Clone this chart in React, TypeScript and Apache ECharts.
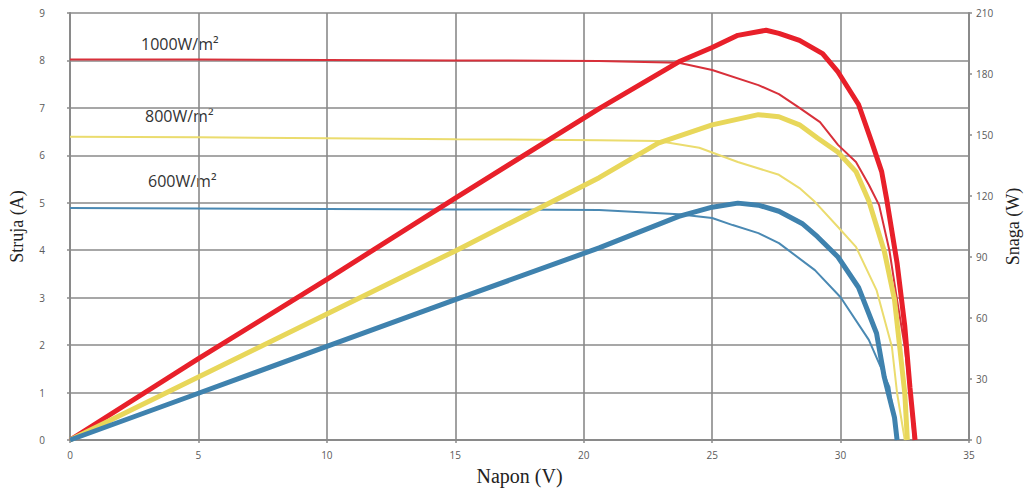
import React, { useEffect, useRef } from "react";
import * as echarts from "echarts";

// ---- Data ----
// I-V curves (Struja, A)
const voltageI1000 = [0, 5, 10, 15, 20.6, 23.7, 25.0, 26.8, 27.6, 28.4, 29.2, 29.9, 30.6, 31.1, 31.5, 31.9, 32.2, 32.5, 32.7, 32.85];
const current1000 = [8.02, 8.02, 8.01, 8.0, 7.99, 7.95, 7.8, 7.48, 7.29, 7.0, 6.7, 6.22, 5.86, 5.38, 4.95, 4.0, 2.95, 1.96, 0.99, 0];

const voltageI800 = [0, 5, 10, 15, 20.6, 22.9, 24.5, 26.0, 27.6, 28.4, 29.0, 29.9, 30.6, 31.4, 32.0, 32.2, 32.5];
const current800 = [6.39, 6.38, 6.36, 6.34, 6.32, 6.3, 6.16, 5.86, 5.59, 5.31, 5.02, 4.49, 4.07, 3.16, 1.96, 0.99, 0];

const voltageI600 = [0, 5, 10, 15, 20.6, 23.7, 25.0, 25.8, 26.8, 27.6, 29.0, 30.0, 31.1, 31.9, 32.2];
const current600 = [4.89, 4.88, 4.87, 4.86, 4.85, 4.76, 4.68, 4.53, 4.36, 4.15, 3.58, 3.01, 2.11, 1.12, 0];

// P-V curves (Snaga, W)
const voltageP1000 = [0, 5, 10, 15, 20.6, 23.7, 25.0, 26.0, 27.1, 27.6, 28.4, 29.3, 29.9, 30.7, 31.2, 31.6, 31.8, 32.2, 32.5, 32.7, 32.9];
const power1000 = [0, 40, 79, 119, 163, 186, 193, 199, 201.5, 200, 196.5, 190, 181, 165, 147, 132, 118, 87, 56, 26, 0];

const voltageP800 = [0, 5, 10, 15, 20.6, 22.9, 25.0, 26.8, 27.6, 28.4, 29.1, 29.9, 30.6, 31.1, 31.7, 32.1, 32.3, 32.5, 32.6];
const power800 = [0, 31, 62, 93, 129, 146, 155, 160, 159, 155, 148.5, 141.5, 132, 117.5, 93, 69, 46, 23, 0];

const voltageP600 = [0, 5, 10, 15, 20.6, 23.7, 25.0, 26.0, 26.8, 27.6, 28.5, 29.1, 29.9, 30.7, 31.4, 31.7, 32.1, 32.2];
const power600 = [0, 23, 46, 69, 94.5, 110, 114.5, 116.5, 115.5, 112.5, 106.5, 100, 90, 75, 52.5, 31, 11, 0];

const irradianceLabels = ["1000W/m²", "800W/m²", "600W/m²"];

const xAxisName = "Napon (V)";
const yLeftName = "Struja (A)";
const yRightName = "Snaga (W)";

const pairs = (xs: number[], ys: number[]) => xs.map((x, i) => [x, ys[i]]);

const RED = "#e8202a";
const RED_THIN = "#d8303a";
const YELLOW = "#e8d75a";
const YELLOW_THIN = "#ebdc6e";
const BLUE = "#3f82ae";
const BLUE_THIN = "#4a89b3";
const GRID = "#8a8a8a";

export default function App() {
  const ref = useRef<HTMLDivElement>(null);

  useEffect(() => {
    if (!ref.current) return;
    const chart = echarts.init(ref.current, undefined, { renderer: "svg" });

    const labelStyle = { color: "#5a5a5a", fontSize: 10, fontFamily: "Open Sans" };
    const nameStyle = { color: "#222", fontSize: 18, fontFamily: "Liberation Serif" };
    const noteStyle = { fill: "#333", fontSize: 16, fontFamily: "Open Sans", verticalAlign: "middle" };

    const thin = (name: string, data: number[][], color: string) => ({
      name,
      type: "line",
      yAxisIndex: 0,
      data,
      showSymbol: false,
      smooth: false,
      lineStyle: { color, width: 2 },
      itemStyle: { color },
      z: 2,
    });
    const thick = (name: string, data: number[][], color: string) => ({
      name,
      type: "line",
      yAxisIndex: 1,
      data,
      showSymbol: false,
      smooth: false,
      lineStyle: { color, width: 5 },
      itemStyle: { color },
      z: 3,
    });

    chart.setOption({
      animation: false,
      backgroundColor: "#ffffff",
      grid: { left: 70, right: 55, top: 13, bottom: 48, containLabel: false, outerBoundsMode: "none" },
      xAxis: {
        type: "value",
        min: 0,
        max: 35,
        interval: 5,
        name: xAxisName,
        nameLocation: "middle",
        nameGap: 26,
        nameTextStyle: { ...nameStyle, fontSize: 20 },
        axisLine: { show: true, lineStyle: { color: GRID, width: 2 } },
        axisTick: { show: true, length: 3, lineStyle: { color: GRID, width: 1.5 } },
        axisLabel: { ...labelStyle, margin: 10 },
        splitLine: { show: true, lineStyle: { color: GRID, width: 1.6 } },
      },
      yAxis: [
        {
          type: "value",
          min: 0,
          max: 9,
          interval: 1,
          position: "left",
          name: yLeftName,
          nameLocation: "middle",
          nameGap: 44,
          nameTextStyle: nameStyle,
          axisLine: { show: true, lineStyle: { color: GRID, width: 2 } },
          axisTick: { show: true, length: 3, lineStyle: { color: GRID, width: 1.5 } },
          axisLabel: { ...labelStyle, margin: 25 },
          splitLine: { show: true, lineStyle: { color: GRID, width: 1.6 } },
        },
        {
          type: "value",
          min: 0,
          max: 210,
          interval: 30,
          position: "right",
          name: yRightName,
          nameLocation: "middle",
          nameGap: 24,
          nameTextStyle: nameStyle,
          axisLine: { show: true, lineStyle: { color: GRID, width: 2 } },
          axisTick: { show: true, length: 3, lineStyle: { color: GRID, width: 1.5 } },
          axisLabel: { ...labelStyle, margin: 7 },
          splitLine: { show: false },
        },
      ],
      series: [
        thin("I " + irradianceLabels[0], pairs(voltageI1000, current1000), RED_THIN),
        thin("I " + irradianceLabels[1], pairs(voltageI800, current800), YELLOW_THIN),
        thin("I " + irradianceLabels[2], pairs(voltageI600, current600), BLUE_THIN),
        thick("P " + irradianceLabels[0], pairs(voltageP1000, power1000), RED),
        thick("P " + irradianceLabels[1], pairs(voltageP800, power800), YELLOW),
        thick("P " + irradianceLabels[2], pairs(voltageP600, power600), BLUE),
      ],
      graphic: [
        { type: "text", x: 141, y: 44, style: { text: irradianceLabels[0], ...noteStyle } },
        { type: "text", x: 145, y: 116, style: { text: irradianceLabels[1], ...noteStyle } },
        { type: "text", x: 148, y: 181, style: { text: irradianceLabels[2], ...noteStyle } },
      ],
    });

    return () => chart.dispose();
  }, []);

  return (
    <div
      ref={ref}
      style={{ position: "fixed", left: 0, top: 0, width: 1024, height: 488, background: "#fff" }}
    />
  );
}
